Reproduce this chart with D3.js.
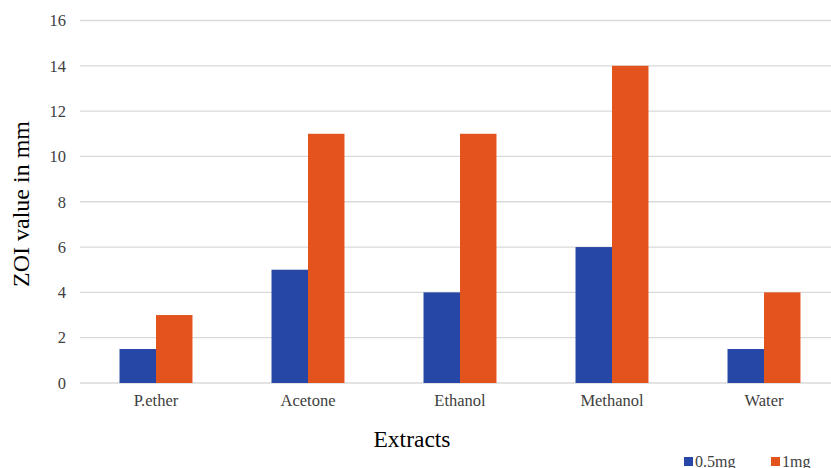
<!DOCTYPE html>
<html>
<head>
<meta charset="utf-8">
<script src="https://cdn.jsdelivr.net/npm/d3@7"></script>
<style>
  html, body { margin: 0; padding: 0; background: #fff; }
  svg { display: block; }
  svg text { font-family: "Liberation Serif", "DejaVu Serif", serif; }
</style>
</head>
<body>
<svg id="chart" width="831" height="468"></svg>
<script>
// Zone of inhibition by extract and dose
const categories = ["P.ether", "Acetone", "Ethanol", "Methanol", "Water"];
const seriesNames = ["0.5mg", "1mg"];
const values05 = [1.5, 5, 4, 6, 1.5];
const values1 = [3, 11, 11, 14, 4];
const yTicks = [0, 2, 4, 6, 8, 10, 12, 14, 16];
const colors = ["#2747A6", "#E2531D"];

(function () {
const svg = d3.select("#chart");
const plotLeft = 80, plotRight = 840, plotTop = 20.5, plotBottom = 383;

const x = d3.scaleBand().domain(categories).range([plotLeft, plotRight]).paddingInner(0.52).paddingOuter(0.26);
const xs = d3.scaleBand().domain(seriesNames).range([0, x.bandwidth()]);
const y = d3.scaleLinear().domain([0, 16]).range([plotBottom, plotTop]);

// gridlines
svg.append("g").selectAll("line").data(yTicks).join("line")
  .attr("x1", plotLeft).attr("x2", 831)
  .attr("y1", d => y(d)).attr("y2", d => y(d))
  .attr("stroke", "#d9d9d9").attr("stroke-width", 1.3);

// y tick labels
svg.append("g").selectAll("text").data(yTicks).join("text")
  .attr("x", 66).attr("y", d => y(d)).attr("dy", "0.35em")
  .attr("text-anchor", "end").attr("font-size", 16.5).attr("fill", "#404040")
  .text(d => d);

// bars
const rows = categories.map((c, i) => ({ c, vals: [values05[i], values1[i]] }));
const groups = svg.append("g").selectAll("g").data(rows).join("g")
  .attr("transform", d => `translate(${x(d.c)},0)`);
groups.selectAll("rect").data(d => d.vals.map((v, j) => ({ v, s: seriesNames[j], j }))).join("rect")
  .attr("x", d => xs(d.s)).attr("width", xs.bandwidth())
  .attr("y", d => y(d.v)).attr("height", d => y(0) - y(d.v))
  .attr("fill", d => colors[d.j]);

// x category labels
svg.append("g").selectAll("text").data(categories).join("text")
  .attr("x", d => x(d) + x.bandwidth() / 2).attr("y", 406)
  .attr("text-anchor", "middle").attr("font-size", 16.5).attr("fill", "#404040")
  .text(d => d);

// axis titles
svg.append("text").attr("transform", "translate(29,204) rotate(-90)")
  .attr("text-anchor", "middle").attr("font-size", 24).attr("fill", "#000")
  .text("ZOI value in mm");
svg.append("text").attr("x", 412).attr("y", 447)
  .attr("text-anchor", "middle").attr("font-size", 23.5).attr("fill", "#000")
  .text("Extracts");

// legend
const legendX = [684, 771];
const lg = svg.append("g").selectAll("g").data(seriesNames).join("g")
  .attr("transform", (d, i) => `translate(${legendX[i]},457)`);
lg.append("rect").attr("width", 9).attr("height", 9).attr("fill", (d, i) => colors[i]);
lg.append("text").attr("x", 11).attr("y", 9.5).attr("font-size", 16).attr("fill", "#404040").text(d => d);
})();
</script>
</body>
</html>
